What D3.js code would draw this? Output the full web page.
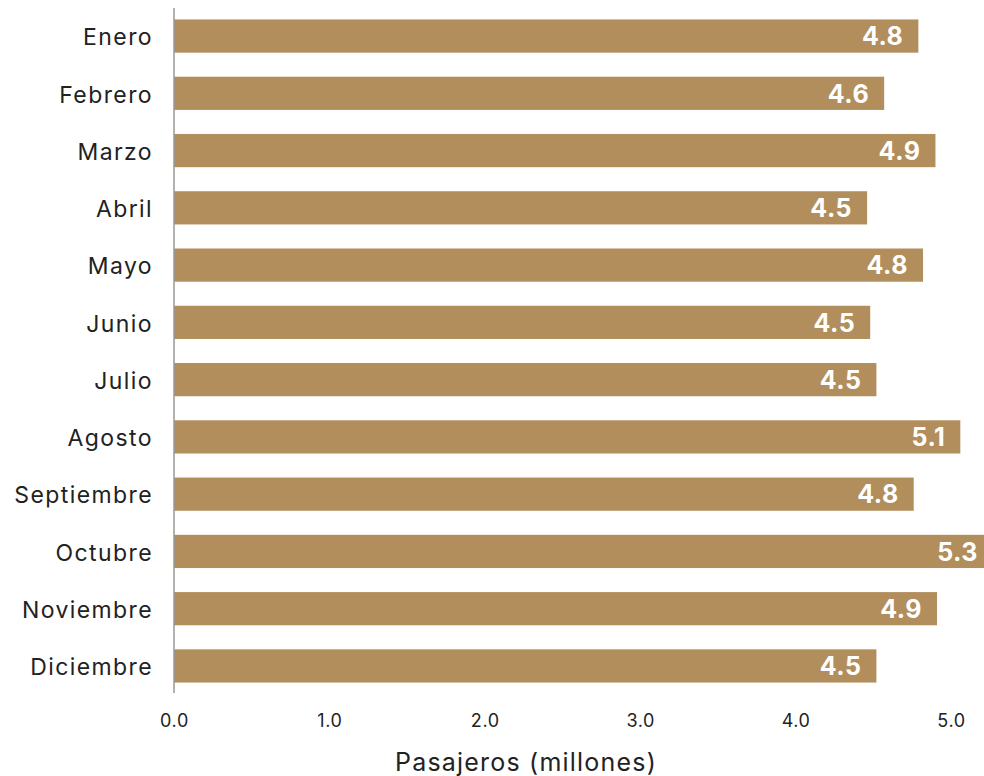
<!DOCTYPE html>
<html>
<head>
<meta charset="utf-8">
<script src="https://cdn.jsdelivr.net/npm/d3@7"></script>
<style>
  body { margin: 0; background: #fff; }
  svg { display: block; font-family: "Inter", "Noto Sans", sans-serif; }
</style>
</head>
<body>
<div id="chart-area"></div>
<script>
// monthly passengers (millions)
const months = ['Enero', 'Febrero', 'Marzo', 'Abril', 'Mayo', 'Junio',
  'Julio', 'Agosto', 'Septiembre', 'Octubre', 'Noviembre', 'Diciembre'];
const passengers = [4.79, 4.57, 4.90, 4.46, 4.82, 4.48, 4.52, 5.06, 4.76, 5.27, 4.91, 4.52];
const xTicks = [0, 1, 2, 3, 4, 5];

const width = 984;
const height = 776;

const svg = d3.select('#chart-area').append('svg')
  .attr('width', width)
  .attr('height', height);

const x = d3.scaleLinear()
  .domain([0, 5])
  .range([174, 951]);

const y = d3.scaleBand()
  .domain(months)
  .range([8, 694])
  .paddingInner(0.42)
  .paddingOuter(0.2);

// bars
svg.selectAll('rect.bar')
  .data(passengers)
  .enter()
  .append('rect')
  .attr('class', 'bar')
  .attr('x', x(0))
  .attr('y', (d, i) => y(months[i]))
  .attr('width', d => x(d) - x(0))
  .attr('height', y.bandwidth())
  .attr('fill', '#b28e5c');

// value labels inside bars
svg.selectAll('text.val')
  .data(passengers)
  .enter()
  .append('text')
  .attr('class', 'val')
  .attr('x', d => x(d) - 15)
  .attr('y', (d, i) => y(months[i]) + y.bandwidth() / 2)
  .attr('dy', '0.37em')
  .attr('text-anchor', 'end')
  .attr('fill', '#fff')
  .attr('font-size', '25px')
  .attr('font-weight', 700)
  .attr('letter-spacing', '0.5px')
  .text(d => d3.format('.1f')(d));

// category axis
const yAxis = svg.append('g')
  .attr('transform', `translate(${x(0)},0)`)
  .call(d3.axisLeft(y).tickSize(0).tickPadding(21));
yAxis.select('.domain').remove();
yAxis.selectAll('text')
  .attr('font-size', '23px')
  .attr('fill', '#222')
  .attr('letter-spacing', '1.4px')
  .attr('dy', '0.4em')
  .attr('font-family', '"Inter", "Noto Sans", sans-serif');

svg.append('line')
  .attr('x1', x(0)).attr('x2', x(0))
  .attr('y1', 8).attr('y2', 693)
  .attr('stroke', '#999')
  .attr('stroke-width', 1.5);

// value axis
const xAxis = svg.append('g')
  .attr('transform', 'translate(0,711)')
  .call(d3.axisBottom(x).tickValues(xTicks).tickSize(0).tickFormat(d3.format('.1f')));
xAxis.select('.domain').remove();
xAxis.selectAll('text')
  .attr('font-size', '18px')
  .attr('fill', '#222')
  .attr('letter-spacing', '0.6px')
  .attr('font-family', '"Inter", "Noto Sans", sans-serif');

svg.append('text')
  .attr('x', 526)
  .attr('y', 771)
  .attr('text-anchor', 'middle')
  .attr('font-size', '25px')
  .attr('fill', '#222')
  .attr('letter-spacing', '1.2px')
  .text('Pasajeros (millones)');
</script>
</body>
</html>
